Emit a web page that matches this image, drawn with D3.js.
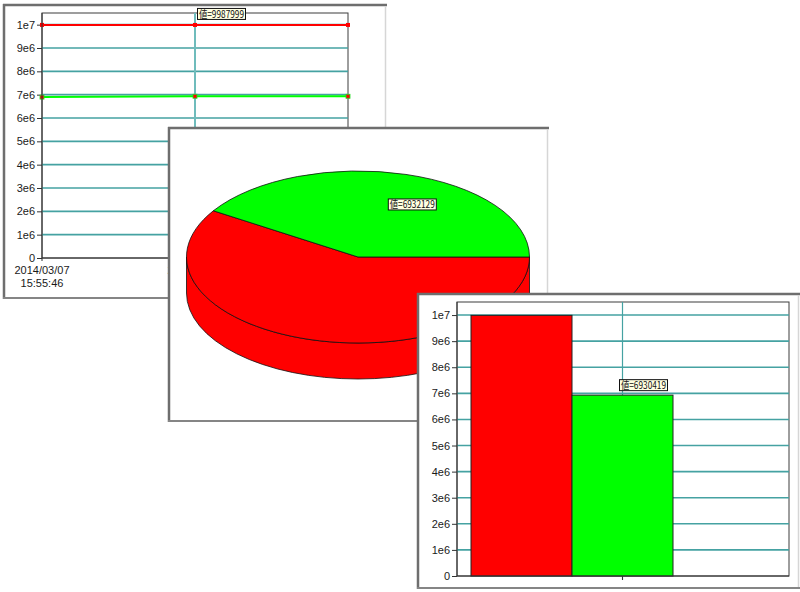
<!DOCTYPE html>
<html>
<head>
<meta charset="utf-8">
<script src="https://cdn.jsdelivr.net/npm/d3@7"></script>
<style>
body{margin:0;background:#fff;}
svg{display:block;}
text{font-family:"Liberation Sans",Arial,sans-serif;}
</style>
</head>
<body>
<svg id="chart" width="800" height="592"></svg>
<script>
// ---- data ----
var seriesNames = ["系列1", "系列2"];
var seriesColors = ["#ff0000", "#00ff00"];
var lineTimes = ["2014/03/07 15:55:46", "2014/03/07 15:55:47", "2014/03/07 15:55:48"];
var lineRed = [9990000, 9987999, 9987999];
var lineGreen = [6896000, 6932129, 6930419];
var pieValues = [9987999, 6932129];
var barValues = [9987999, 6930419];
var yTicks = [0, 1e6, 2e6, 3e6, 4e6, 5e6, 6e6, 7e6, 8e6, 9e6, 1e7];
var yMax = 1.05e7;

var svg = d3.select("#chart");
var gridColor = "#45a2a2";

function fmt(d){
    if (d === 0) return "0";
    return d.toExponential(0).replace("e+", "e");
}

// window with sunken frame
function frame(x0, y0, x1, y1){
    var g = svg.append("g");
    g.append("rect").attr("x", x0).attr("y", y0).attr("width", x1 - x0).attr("height", y1 - y0).attr("fill", "#fff");
    g.append("line").attr("x1", x0).attr("x2", x1).attr("y1", y0 + 1).attr("y2", y0 + 1).attr("stroke", "#6e6e6e").attr("stroke-width", 2.5);
    g.append("line").attr("x1", x0 + 1).attr("x2", x0 + 1).attr("y1", y0).attr("y2", y1).attr("stroke", "#6e6e6e").attr("stroke-width", 2.5);
    g.append("line").attr("x1", x1 - 1.5).attr("x2", x1 - 1.5).attr("y1", y0 + 2).attr("y2", y1).attr("stroke", "#d6d6d6").attr("stroke-width", 1.5);
    g.append("line").attr("x1", x0).attr("x2", x1).attr("y1", y1 - 1).attr("y2", y1 - 1).attr("stroke", "#858585").attr("stroke-width", 2);
    return g;
}

function tooltip(g, x, y, txt){
    var w = 48, h = 11;
    g.append("rect").attr("x", x + 0.5).attr("y", y + 0.5).attr("width", w).attr("height", h)
        .attr("fill", "#ffffe1").attr("stroke", "#111").attr("stroke-width", 1);
    g.append("text").attr("x", x + 2).attr("y", y + 9.8)
        .attr("font-size", 10.5).attr("fill", "#111")
        .style("font-family", "'Noto Sans CJK JP','DejaVu Sans',sans-serif")
        .attr("textLength", w - 3).attr("lengthAdjust", "spacingAndGlyphs")
        .text(txt);
}

function yAxisGrid(g, y, left, right){
    g.append("g").selectAll("line").data(yTicks.filter(function(d){return d > 0;})).enter()
        .append("line")
        .attr("x1", left).attr("x2", right)
        .attr("y1", function(d){return y(d);}).attr("y2", function(d){return y(d);})
        .attr("stroke", gridColor).attr("stroke-width", 1.6);
    var ax = g.append("g").attr("transform", "translate(" + left + ",0)")
        .call(d3.axisLeft(y).tickValues(yTicks).tickSize(5).tickPadding(2).tickFormat(fmt));
    ax.select(".domain").remove();
    ax.selectAll(".tick line").attr("stroke", "#333");
    ax.selectAll("text").attr("font-size", 11).attr("fill", "#1a1a1a")
        .style("font-family", "'Liberation Sans',Arial,sans-serif");
}

// ---- panel 1 : line chart ----
(function(){
    var g = frame(3, 4, 387, 299);
    var L = 42, R = 348, T = 13, B = 258;
    var x = d3.scalePoint().domain(lineTimes).range([L, R]);
    var y = d3.scaleLinear().domain([0, yMax]).range([B, T]);

    g.append("rect").attr("x", L).attr("y", T).attr("width", R - L).attr("height", B - T)
        .attr("fill", "none").attr("stroke", "#3c3c3c").attr("stroke-width", 1);
    yAxisGrid(g, y, L, R);

    // cursor line at hovered point
    var cx = x(lineTimes[1]);
    g.append("line").attr("x1", cx).attr("x2", cx).attr("y1", T).attr("y2", B)
        .attr("stroke", "#6fbcbc").attr("stroke-width", 2);

    var series = [lineRed, lineGreen];
    var line = d3.line().x(function(d, i){return x(lineTimes[i]);}).y(function(d){return y(d);});
    series.forEach(function(vals, s){
        g.append("path").attr("d", line(vals)).attr("fill", "none")
            .attr("stroke", seriesColors[s]).attr("stroke-width", 2);
    });
    series.forEach(function(vals, s){
        g.append("g").selectAll("rect").data(vals).enter().append("rect")
            .attr("x", function(d, i){return x(lineTimes[i]) - 2;})
            .attr("y", function(d){return y(d) - 2;})
            .attr("width", 4).attr("height", 4)
            .attr("fill", "#ff0000").attr("stroke", s === 0 ? "none" : "#22dd22").attr("stroke-width", 0.8);
    });

    // x axis
    g.append("line").attr("x1", L).attr("x2", R).attr("y1", B).attr("y2", B).attr("stroke", "#333");
    g.append("line").attr("x1", L).attr("x2", L).attr("y1", T).attr("y2", B + 3).attr("stroke", "#333");
    lineTimes.forEach(function(t){
        var parts = t.split(" ");
        var tx = g.append("text").attr("x", x(t)).attr("y", B + 16).attr("text-anchor", "middle")
            .attr("font-size", 11).attr("fill", "#1a1a1a");
        tx.append("tspan").attr("x", x(t)).text(parts[0]);
        tx.append("tspan").attr("x", x(t)).attr("dy", 13).text(parts[1]);
    });

    tooltip(g, cx + 2, y(lineRed[1]) - 17, "値=" + lineRed[1]);
})();

// ---- panel 2 : 3D pie ----
(function(){
    var g = frame(168, 127, 549, 422);
    var cx = 358, cy = 257, rx = 171.5, ry = 86, depth = 36;
    var pie = d3.pie().sortValues(function(a, b){return a - b;})
        .startAngle(Math.PI / 2).endAngle(Math.PI / 2 - 2 * Math.PI);
    var arcs = pie(pieValues);

    function P(t, dy){ return [cx + rx * Math.cos(t), cy - ry * Math.sin(t) + (dy || 0)]; }

    // side walls (front half, angles between PI and 2PI)
    arcs.forEach(function(a, i){
        var t1 = Math.PI / 2 - a.startAngle, t2 = Math.PI / 2 - a.endAngle;
        var s = Math.max(t1, Math.PI), e = Math.min(t2, 2 * Math.PI);
        if (e <= s) return;
        var p1 = P(s), p2 = P(e), p3 = P(e, depth), p4 = P(s, depth);
        var d = "M" + p1 + "A" + rx + "," + ry + " 0 0 0 " + p2 +
                "L" + p3 + "A" + rx + "," + ry + " 0 0 1 " + p4 + "Z";
        g.append("path").attr("d", d).attr("fill", seriesColors[i])
            .attr("stroke", "#111").attr("stroke-width", 0.8);
    });
    // top faces
    arcs.forEach(function(a, i){
        var t1 = Math.PI / 2 - a.startAngle, t2 = Math.PI / 2 - a.endAngle;
        var large = (t2 - t1) > Math.PI ? 1 : 0;
        var d = "M" + [cx, cy] + "L" + P(t1) + "A" + rx + "," + ry + " 0 " + large + " 0 " + P(t2) + "Z";
        g.append("path").attr("d", d).attr("fill", seriesColors[i])
            .attr("stroke", "#111").attr("stroke-width", 0.8);
    });
    // label for green slice
    var ga = arcs[1];
    var mid = Math.PI / 2 - (ga.startAngle + ga.endAngle) / 2;
    var lp = [cx + 0.6 * rx * Math.cos(mid), cy - 0.6 * ry * Math.sin(mid)];
    tooltip(g, lp[0] + 1, lp[1] - 9, "値=" + pieValues[1]);
})();

// ---- panel 3 : bar chart ----
(function(){
    var g = frame(417, 293, 800, 589);
    var L = 457, R = 789, T = 302, B = 576;
    var x = d3.scaleBand().domain(d3.range(3)).range([471, 774]).paddingInner(0);
    var y = d3.scaleLinear().domain([0, yMax]).range([B, T]);

    g.append("rect").attr("x", L).attr("y", T).attr("width", R - L).attr("height", B - T)
        .attr("fill", "none").attr("stroke", "#3c3c3c").attr("stroke-width", 1);
    yAxisGrid(g, y, L, R);

    var cx = x(1) + x.bandwidth() / 2;
    g.append("line").attr("x1", cx).attr("x2", cx).attr("y1", T).attr("y2", B + 4)
        .attr("stroke", gridColor).attr("stroke-width", 1.2);

    g.append("g").selectAll("rect").data(barValues).enter().append("rect")
        .attr("x", function(d, i){return x(i);})
        .attr("y", function(d){return y(d);})
        .attr("width", x.bandwidth())
        .attr("height", function(d){return B - y(d);})
        .attr("fill", function(d, i){return seriesColors[i];})
        .attr("stroke", "#222").attr("stroke-width", 1);

    g.append("line").attr("x1", L).attr("x2", R).attr("y1", B).attr("y2", B).attr("stroke", "#333");
    g.append("line").attr("x1", L).attr("x2", L).attr("y1", T).attr("y2", B).attr("stroke", "#333");
    g.append("line").attr("x1", cx).attr("x2", cx).attr("y1", B).attr("y2", B + 4).attr("stroke", "#333");

    tooltip(g, cx - 3.5, y(barValues[1]) - 16, "値=" + barValues[1]);
})();
</script>
</body>
</html>
